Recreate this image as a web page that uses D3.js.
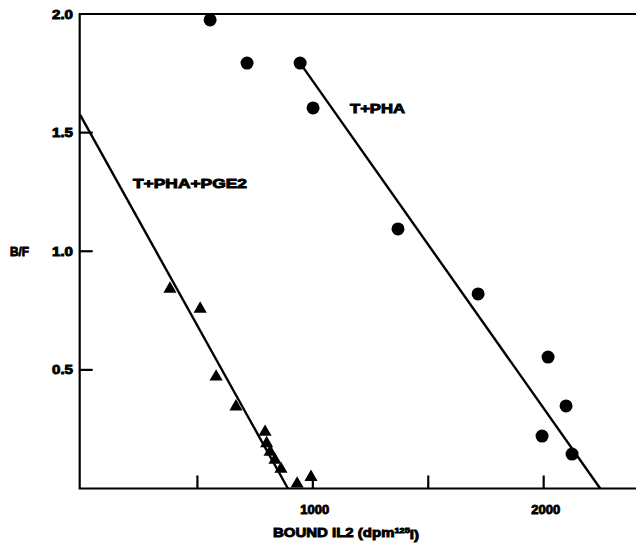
<!DOCTYPE html>
<html>
<head>
<meta charset="utf-8">
<script src="https://cdn.jsdelivr.net/npm/d3@7"></script>
<style>
  body { margin: 0; background: #fff; }
  text { font-family: "Liberation Sans", Arial, sans-serif; font-weight: bold; fill: #000; stroke: #000; stroke-width: 0.9px; }
</style>
</head>
<body>
<div id="chart"></div>
<script>
// T+PHA (circles)
var phaX = [555, 715, 945, 1001, 1369, 1716, 2019, 2097, 1993, 2123];
var phaY = [1.975, 1.793, 1.793, 1.604, 1.094, 0.82, 0.554, 0.348, 0.221, 0.145];
// T+PHA+PGE2 (triangles)
var pgeX = [381, 512, 581, 667, 793, 800, 815, 836, 862, 932, 992];
var pgeY = [0.841, 0.757, 0.471, 0.345, 0.238, 0.19, 0.154, 0.12, 0.082, 0.02, 0.048];
// fitted lines (endpoints, data units)
var phaLine = [[945, 1.793], [2245, 0]];
var pgeLine = [[-8, 1.575], [892, 0]];
var xTicks = [500, 1000, 1500, 2000];
var xTickLabels = ["", "1000", "", "2000"];
var yTicks = [0.5, 1.0, 1.5, 2.0];

var width = 636, height = 547;

var x = d3.scaleLinear().domain([0, 2400]).range([82, 636]);
var y = d3.scaleLinear().domain([0, 2]).range([488.5, 14]);

var svg = d3.select('#chart')
    .append('svg')
    .attr('width', width)
    .attr('height', height);

// frame: left axis, top line, bottom axis
svg.append('path')
    .attr('d', 'M' + width + ',' + y(2) + 'H' + x(-10) + 'V' + y(0) + 'H' + width)
    .attr('fill', 'none')
    .attr('stroke', '#000')
    .attr('stroke-width', 2.2);

// y ticks, pointing inward
svg.selectAll('.ytick')
    .data(yTicks.filter(function (d) { return d < 2; }))
    .enter().append('line')
    .attr('x1', x(-10)).attr('x2', x(-10) + 13)
    .attr('y1', function (d) { return y(d); })
    .attr('y2', function (d) { return y(d); })
    .attr('stroke', '#000').attr('stroke-width', 2.2);

svg.selectAll('.ylab')
    .data(yTicks)
    .enter().append('text')
    .attr('x', 73)
    .attr('y', function (d) { return y(d); })
    .attr('dy', '0.35em')
    .attr('text-anchor', 'end')
    .attr('textLength', 21)
    .attr('lengthAdjust', 'spacingAndGlyphs')
    .style('font-size', '13px')
    .text(function (d) { return d.toFixed(1); });

svg.append('text')
    .attr('x', 10).attr('y', y(1))
    .attr('dy', '0.35em')
    .attr('textLength', 19)
    .attr('lengthAdjust', 'spacingAndGlyphs')
    .style('font-size', '13px')
    .text('B/F');

// x ticks, pointing up
svg.selectAll('.xtick')
    .data(xTicks)
    .enter().append('line')
    .attr('x1', function (d) { return x(d); })
    .attr('x2', function (d) { return x(d); })
    .attr('y1', y(0)).attr('y2', y(0) - 13)
    .attr('stroke', '#000').attr('stroke-width', 2.2);

svg.selectAll('.xlab')
    .data(xTicks)
    .enter().append('text')
    .attr('x', function (d) { return x(d) + 2; })
    .attr('y', 509)
    .attr('dy', '0.35em')
    .attr('text-anchor', 'middle')
    .style('font-size', '13px')
    .text(function (d, i) { return xTickLabels[i]; });

var xl = svg.append('text')
    .attr('x', 273).attr('y', 532)
    .attr('dy', '0.35em')
    .attr('textLength', 146)
    .attr('lengthAdjust', 'spacingAndGlyphs')
    .style('font-size', '13px');
xl.append('tspan').text('BOUND IL2 (dpm');
xl.append('tspan').attr('dy', '-0.45em').style('font-size', '8px').text('125');
xl.append('tspan').attr('dy', '0.45em').text('I)');

// regression lines
var line = d3.line()
    .x(function (d) { return x(d[0]); })
    .y(function (d) { return y(d[1]); });

[phaLine, pgeLine].forEach(function (l) {
    svg.append('path')
        .attr('d', line(l))
        .attr('fill', 'none')
        .attr('stroke', '#000')
        .attr('stroke-width', 2.4);
});

// circles
svg.selectAll('.pha')
    .data(phaX)
    .enter().append('circle')
    .attr('cx', function (d) { return x(d); })
    .attr('cy', function (d, i) { return y(phaY[i]); })
    .attr('r', 6.5)
    .attr('fill', '#000');

// triangles
var tri = d3.symbol().type(d3.symbolTriangle).size(75);
svg.selectAll('.pge')
    .data(pgeX)
    .enter().append('path')
    .attr('d', tri)
    .attr('transform', function (d, i) {
        return 'translate(' + x(d) + ',' + y(pgeY[i]) + ')';
    })
    .attr('fill', '#000');

// series labels
svg.append('text')
    .attr('x', 350).attr('y', 108)
    .attr('dy', '0.35em')
    .attr('textLength', 55)
    .attr('lengthAdjust', 'spacingAndGlyphs')
    .style('font-size', '13px')
    .text('T+PHA');

svg.append('text')
    .attr('x', 133).attr('y', 183)
    .attr('dy', '0.35em')
    .attr('textLength', 114)
    .attr('lengthAdjust', 'spacingAndGlyphs')
    .style('font-size', '13px')
    .text('T+PHA+PGE2');
</script>
</body>
</html>
